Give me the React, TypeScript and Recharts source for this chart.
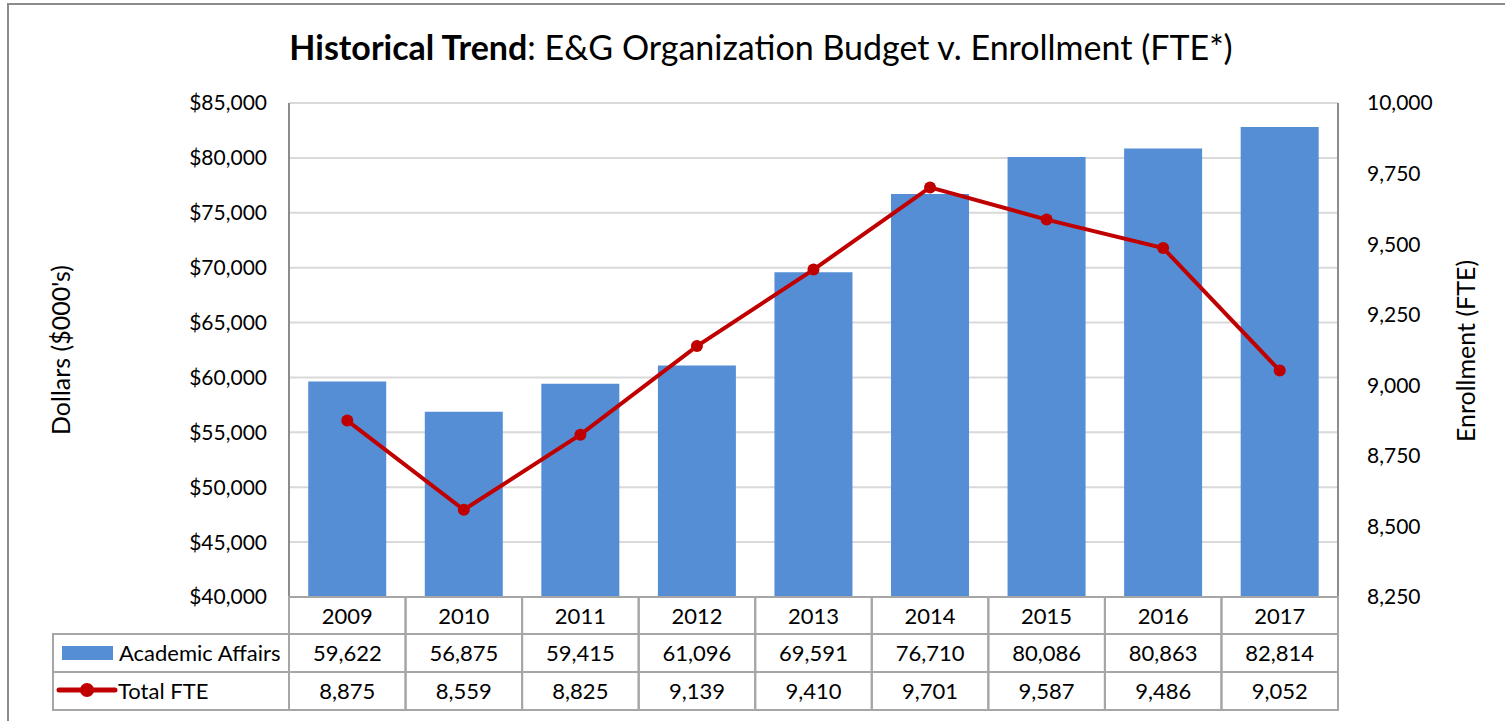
import { ComposedChart, Bar, Line, XAxis, YAxis, CartesianGrid } from 'recharts';

const years = ['2009', '2010', '2011', '2012', '2013', '2014', '2015', '2016', '2017'];
const academicAffairs = [59622, 56875, 59415, 61096, 69591, 76710, 80086, 80863, 82814];
const totalFte = [8875, 8559, 8825, 9139, 9410, 9701, 9587, 9486, 9052];
const dollarTicks = [40000, 45000, 50000, 55000, 60000, 65000, 70000, 75000, 80000, 85000];
const fteTicks = [8250, 8500, 8750, 9000, 9250, 9500, 9750, 10000];

const FONT = 'Lato, "Open Sans", sans-serif';
const BLUE = '#558ED5';
const RED = '#C00000';
const LINE_GREY = '#A6A6A6';

const PLOT_LEFT = 289;
const PLOT_RIGHT = 1338;
const CELL_W = (PLOT_RIGHT - PLOT_LEFT) / years.length;
const ROWS = [597, 634, 672, 710];
const TABLE_FS = 22;

const fmt = (v: number) => v.toLocaleString('en-US');

// draws one column of the data table under each category
function TableTick(props: any) {
  const { x, index } = props;
  const left = x - CELL_W / 2;
  const cells = [years[index], fmt(academicAffairs[index]), fmt(totalFte[index])];
  return (
    <g>
      {cells.map((t, r) => (
        <g key={r}>
          <rect x={left} y={ROWS[r]} width={CELL_W} height={ROWS[r + 1] - ROWS[r]} fill="none" stroke={LINE_GREY} strokeWidth={2} />
          <text x={x} y={(ROWS[r] + ROWS[r + 1]) / 2 + 8} textAnchor="middle" fontSize={TABLE_FS} fontFamily={FONT} fill="#000">
            {t}
          </text>
        </g>
      ))}
      {index === 0 && (
        <g>
          <rect x={53} y={ROWS[1]} width={left - 53} height={ROWS[2] - ROWS[1]} fill="none" stroke={LINE_GREY} strokeWidth={2} />
          <rect x={53} y={ROWS[2]} width={left - 53} height={ROWS[3] - ROWS[2]} fill="none" stroke={LINE_GREY} strokeWidth={2} />
          <rect x={62} y={646} width={51} height={14} fill={BLUE} />
          <text x={119} y={661} fontSize={TABLE_FS} fontFamily={FONT} fill="#000">Academic Affairs</text>
          <line x1={59} x2={115} y1={690} y2={690} stroke={RED} strokeWidth={5} strokeLinecap="round" />
          <circle cx={87} cy={690} r={7} fill={RED} />
          <text x={118} y={699} fontSize={TABLE_FS} fontFamily={FONT} fill="#000">Total FTE</text>
        </g>
      )}
    </g>
  );
}

export default function App() {
  const data = years.map((y, i) => ({ year: y, aa: academicAffairs[i], fte: totalFte[i] }));

  return (
    <div style={{ position: 'absolute', left: 0, top: 0, width: 1505, height: 721, overflow: 'hidden', background: '#fff', fontFamily: FONT }}>
      <div style={{ position: 'absolute', left: 7, top: 3, width: 1530, height: 740, border: '2px solid #8c8c8c' }} />
      <div style={{ position: 'absolute', left: 0, top: 26, width: 1522, textAlign: 'center', fontSize: 34, color: '#000', whiteSpace: 'nowrap' }}>
        <b>Historical Trend</b>: E&amp;G Organization Budget v. Enrollment (FTE*)
      </div>
      <div style={{ position: 'absolute', left: 60, top: 350, transform: 'translate(-50%, -50%) rotate(-90deg)', whiteSpace: 'nowrap', fontSize: 25 }}>
        Dollars ($000's)
      </div>
      <div style={{ position: 'absolute', left: 1465, top: 351, transform: 'translate(-50%, -50%) rotate(-90deg)', whiteSpace: 'nowrap', fontSize: 25 }}>
        Enrollment (FTE)
      </div>
      <ComposedChart
        width={1505}
        height={721}
        data={data}
        margin={{ top: 103, right: 67, bottom: 10, left: 189 }}
        barCategoryGap="16.5%"
        style={{ position: 'absolute', left: 0, top: 0 }}
      >
        <CartesianGrid vertical={false} stroke="#D9D9D9" strokeWidth={2} yAxisId="left" />
        <XAxis
          dataKey="year"
          height={114}
          axisLine={{ stroke: LINE_GREY, strokeWidth: 2 }}
          tickLine={false}
          tickSize={0}
          tickMargin={0}
          interval={0}
          tick={<TableTick />}
        />
        <YAxis
          yAxisId="left"
          width={100}
          domain={[40000, 85000]}
          ticks={dollarTicks}
          allowDataOverflow
          tickFormatter={(v: number) => '$' + fmt(v)}
          axisLine={{ stroke: '#8c8c8c', strokeWidth: 2 }}
          tickLine={false}
          tickSize={0}
          tickMargin={22}
          tick={{ fontSize: 21, fill: '#000', fontFamily: FONT }}
        />
        <YAxis
          yAxisId="right"
          orientation="right"
          width={100}
          domain={[8250, 10000]}
          ticks={fteTicks}
          tickFormatter={fmt}
          axisLine={{ stroke: '#8c8c8c', strokeWidth: 2 }}
          tickLine={false}
          tickSize={0}
          tickMargin={29}
          tick={{ fontSize: 21, fill: '#000', fontFamily: FONT }}
        />
        <Bar yAxisId="left" dataKey="aa" fill={BLUE} isAnimationActive={false} />
        <Line
          yAxisId="right"
          dataKey="fte"
          stroke={RED}
          strokeWidth={4}
          dot={{ r: 6, fill: RED, stroke: RED, strokeWidth: 0 }}
          activeDot={false}
          isAnimationActive={false}
        />
      </ComposedChart>
    </div>
  );
}
